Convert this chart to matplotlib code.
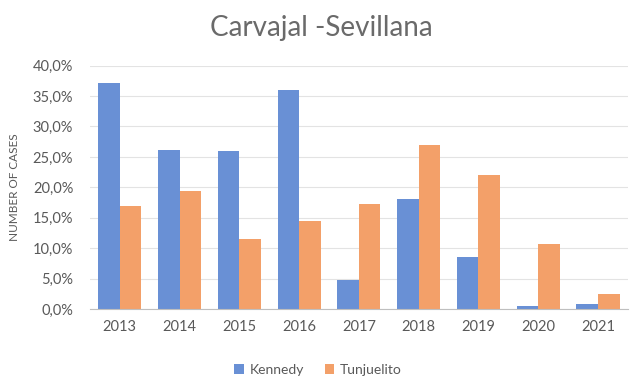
import matplotlib
matplotlib.use("Agg")
import matplotlib.pyplot as plt
import numpy as np
from matplotlib.ticker import FuncFormatter

years = ["2013", "2014", "2015", "2016", "2017", "2018", "2019", "2020", "2021"]
kennedy = [37.1, 26.2, 26.0, 36.0, 4.8, 18.1, 8.6, 0.5, 0.8]
tunjuelito = [17.0, 19.4, 11.6, 14.5, 17.3, 26.9, 22.1, 10.7, 2.5]

plt.rcParams["font.family"] = ["Lato", "DejaVu Sans"]
txt = "#595959"

fig = plt.figure(figsize=(6.42, 3.90), dpi=100)
ax = fig.add_axes([0.14, 0.207, 0.838, 0.625])

x = np.arange(len(years))
w = 0.36
ax.bar(x - w / 2, kennedy, w, color="#6990D5", label="Kennedy", zorder=3)
ax.bar(x + w / 2, tunjuelito, w, color="#F3A069", label="Tunjuelito", zorder=3)

ax.set_xlim(-0.5, len(years) - 0.5)
ax.set_ylim(0, 40)
ax.set_yticks(np.arange(0, 41, 5))
ax.yaxis.set_major_formatter(FuncFormatter(lambda v, _: f"{v:.1f}%".replace(".", ",")))
ax.set_xticks(x)
ax.set_xticklabels(years)
ax.tick_params(length=0, labelsize=10.5, colors=txt, pad=8)
ax.tick_params(axis="y", pad=12)

ax.grid(axis="y", color="#E3E3E3", lw=0.8, zorder=0)
for s in ["top", "right", "left"]:
    ax.spines[s].set_visible(False)
ax.spines["bottom"].set_color("#BFBFBF")
ax.spines["bottom"].set_zorder(4)

ax.set_ylabel("NUMBER OF CASES", fontsize=8.5, color=txt)
ax.yaxis.set_label_coords(-0.13, 0.5)
fig.text(0.5, 0.928, "Carvajal -Sevillana", ha="center", va="center",
         fontsize=20, color="#6a6a6a")

ax.legend(loc="center", bbox_to_anchor=(0.424, -0.25), ncol=2, frameon=False,
          fontsize=10, labelcolor=txt, handlelength=0.7, handleheight=0.7,
          handletextpad=0.4, columnspacing=1.5)

fig.savefig("out.png", dpi=100)
